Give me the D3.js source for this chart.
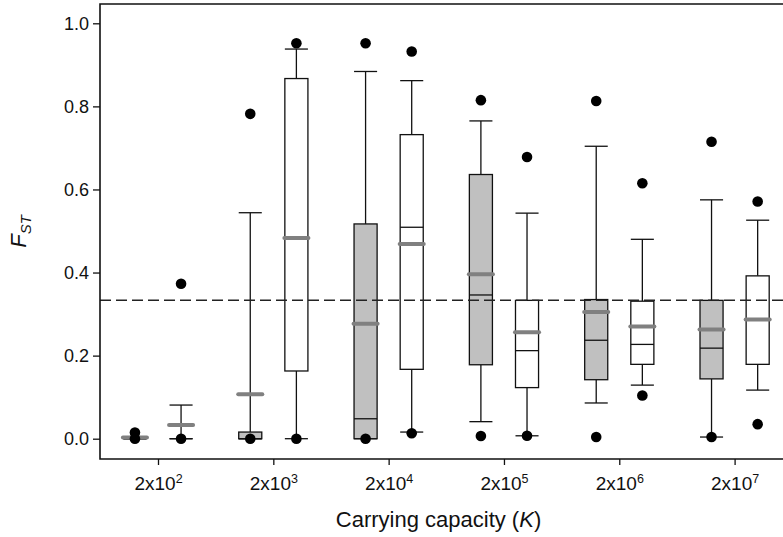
<!DOCTYPE html>
<html><head><meta charset="utf-8">
<script src="https://cdn.jsdelivr.net/npm/d3@7"></script>
<style>body{margin:0;background:#fff} svg{display:block}</style>
</head><body><svg id="chart" width="783" height="537"></svg>
<script>
// Carrying capacity levels, written as 2x10^n
const exponents = [2, 3, 4, 5, 6, 7];
// Each row: 5th, 10th, 25th, 50th, 75th, 90th, 95th percentile, then mean
const statKeys = ["p5", "p10", "q1", "median", "q3", "p90", "p95", "mean"];
const greySeries = [
  [0, 0, 0, 0, 0, 0, 0.015, 0.003],
  [0, 0, 0, 0, 0.016, 0.544, 0.782, 0.107],
  [0, 0, 0, 0.048, 0.517, 0.884, 0.952, 0.277],
  [0.0065, 0.041, 0.178, 0.346, 0.636, 0.765, 0.815, 0.396],
  [0.004, 0.086, 0.142, 0.237, 0.335, 0.704, 0.813, 0.305],
  [0.004, 0.004, 0.144, 0.218, 0.333, 0.575, 0.715, 0.263]
];
const whiteSeries = [
  [0, 0, 0, 0, 0, 0.081, 0.373, 0.033],
  [0, 0, 0.163, 0.482, 0.867, 0.938, 0.952, 0.483],
  [0.013, 0.016, 0.167, 0.509, 0.732, 0.862, 0.932, 0.469],
  [0.007, 0.007, 0.123, 0.212, 0.333, 0.543, 0.678, 0.256],
  [0.104, 0.129, 0.179, 0.227, 0.331, 0.480, 0.615, 0.270],
  [0.035, 0.117, 0.179, 0.285, 0.392, 0.526, 0.571, 0.287]
];
const yTicks = [0, 0.2, 0.4, 0.6, 0.8, 1.0];
const referenceValue = 1 / 3;

const frame = { left: 100, top: 4, bottom: 459, right: 783 };
const FONT = "Arial, 'Liberation Sans', sans-serif";
const INK = "#111";

const svg = d3.select("#chart");
const y = d3.scaleLinear().domain([0, 1]).range([438.7, 23.3]);
const x = d3.scaleLinear().domain([0, exponents.length - 1]).range([158, 734.6]);
const shift = 0.2;                    // group offset, in category units
const boxW = x(0.2) - x(0);
const meanW = boxW + 4;

function toStats(row, i, side, fill) {
  const s = {};
  statKeys.forEach((k, j) => s[k] = row[j]);
  s.cx = x(i + side * shift);
  s.fill = fill;
  return s;
}
const boxes = [
  ...greySeries.map((r, i) => toStats(r, i, -1, "#c0c0c0")),
  ...whiteSeries.map((r, i) => toStats(r, i, 1, "#ffffff"))
];

const g = svg.append("g");

// whiskers
g.append("g").selectAll("line").data(boxes).join("line")
  .attr("x1", d => d.cx).attr("x2", d => d.cx)
  .attr("y1", d => y(d.p10)).attr("y2", d => y(d.q1))
  .attr("stroke", INK).attr("stroke-width", 1.3);
g.append("g").selectAll("line").data(boxes).join("line")
  .attr("x1", d => d.cx).attr("x2", d => d.cx)
  .attr("y1", d => y(d.q3)).attr("y2", d => y(d.p90))
  .attr("stroke", INK).attr("stroke-width", 1.3);
// caps
["p10", "p90"].forEach(k => {
  g.append("g").selectAll("line").data(boxes).join("line")
    .attr("x1", d => d.cx - boxW / 2).attr("x2", d => d.cx + boxW / 2)
    .attr("y1", d => y(d[k])).attr("y2", d => y(d[k]))
    .attr("stroke", INK).attr("stroke-width", 1.3);
});
// boxes
g.append("g").selectAll("rect").data(boxes).join("rect")
  .attr("x", d => d.cx - boxW / 2).attr("width", boxW)
  .attr("y", d => y(d.q3)).attr("height", d => Math.max(0, y(d.q1) - y(d.q3)))
  .attr("fill", d => d.fill).attr("stroke", INK).attr("stroke-width", 1.3);
// medians
g.append("g").selectAll("line").data(boxes).join("line")
  .attr("x1", d => d.cx - boxW / 2).attr("x2", d => d.cx + boxW / 2)
  .attr("y1", d => y(d.median)).attr("y2", d => y(d.median))
  .attr("stroke", INK).attr("stroke-width", 1.3);

// reference line
g.append("line")
  .attr("x1", frame.left).attr("x2", frame.right)
  .attr("y1", y(referenceValue)).attr("y2", y(referenceValue))
  .attr("stroke", "#222").attr("stroke-width", 1.3).attr("stroke-dasharray", "11,5");

// means
g.append("g").selectAll("line").data(boxes).join("line")
  .attr("x1", d => d.cx - meanW / 2 + 1.5).attr("x2", d => d.cx + meanW / 2 - 1.5)
  .attr("y1", d => y(d.mean)).attr("y2", d => y(d.mean))
  .attr("stroke", "#808080").attr("stroke-width", 4).attr("stroke-linecap", "round");

// 5th / 95th percentile points
["p5", "p95"].forEach(k => {
  g.append("g").selectAll("circle").data(boxes).join("circle")
    .attr("cx", d => d.cx).attr("cy", d => y(d[k])).attr("r", 5.3)
    .attr("fill", "#000");
});

// frame (left, top, bottom)
svg.append("path")
  .attr("d", `M${frame.right},${frame.top}H${frame.left}V${frame.bottom}H${frame.right}`)
  .attr("fill", "none").attr("stroke", INK).attr("stroke-width", 1.6);

// y axis
const yAxis = svg.append("g").attr("transform", `translate(${frame.left},0)`)
  .call(d3.axisLeft(y).tickValues(yTicks).tickFormat(d3.format(".1f")).tickSize(7).tickPadding(4));
yAxis.select(".domain").remove();
yAxis.selectAll("line").attr("stroke", INK).attr("stroke-width", 1.3);
yAxis.selectAll("text").attr("font-family", FONT).attr("font-size", 18).attr("fill", INK);

// x axis
const xAxis = svg.append("g").attr("transform", `translate(0,${frame.bottom})`)
  .call(d3.axisBottom(x).tickValues(d3.range(exponents.length)).tickFormat("").tickSize(6));
xAxis.select(".domain").remove();
xAxis.selectAll("line").attr("stroke", INK).attr("stroke-width", 1.3);
xAxis.selectAll(".tick").append("text")
  .attr("y", 31).attr("text-anchor", "middle")
  .attr("font-family", FONT).attr("font-size", 19).attr("fill", INK)
  .each(function (d, i) {
    const t = d3.select(this);
    t.append("tspan").text("2x10");
    t.append("tspan").attr("font-size", 12.5).attr("dy", -7).text(exponents[i]);
  });

// axis titles
svg.append("text")
  .attr("x", (frame.left + frame.right) / 2 - 3).attr("y", 527)
  .attr("text-anchor", "middle").attr("font-family", FONT).attr("font-size", 22).attr("fill", INK)
  .html("Carrying capacity (<tspan font-style='italic'>K</tspan>)");

const yt = svg.append("text")
  .attr("transform", `translate(26,${(frame.top + frame.bottom) / 2}) rotate(-90)`)
  .attr("text-anchor", "middle").attr("font-family", FONT).attr("font-size", 22)
  .attr("font-style", "italic").attr("fill", INK);
yt.append("tspan").text("F");
yt.append("tspan").attr("font-size", 15).attr("dy", 5).text("ST");
</script>
</body></html>
